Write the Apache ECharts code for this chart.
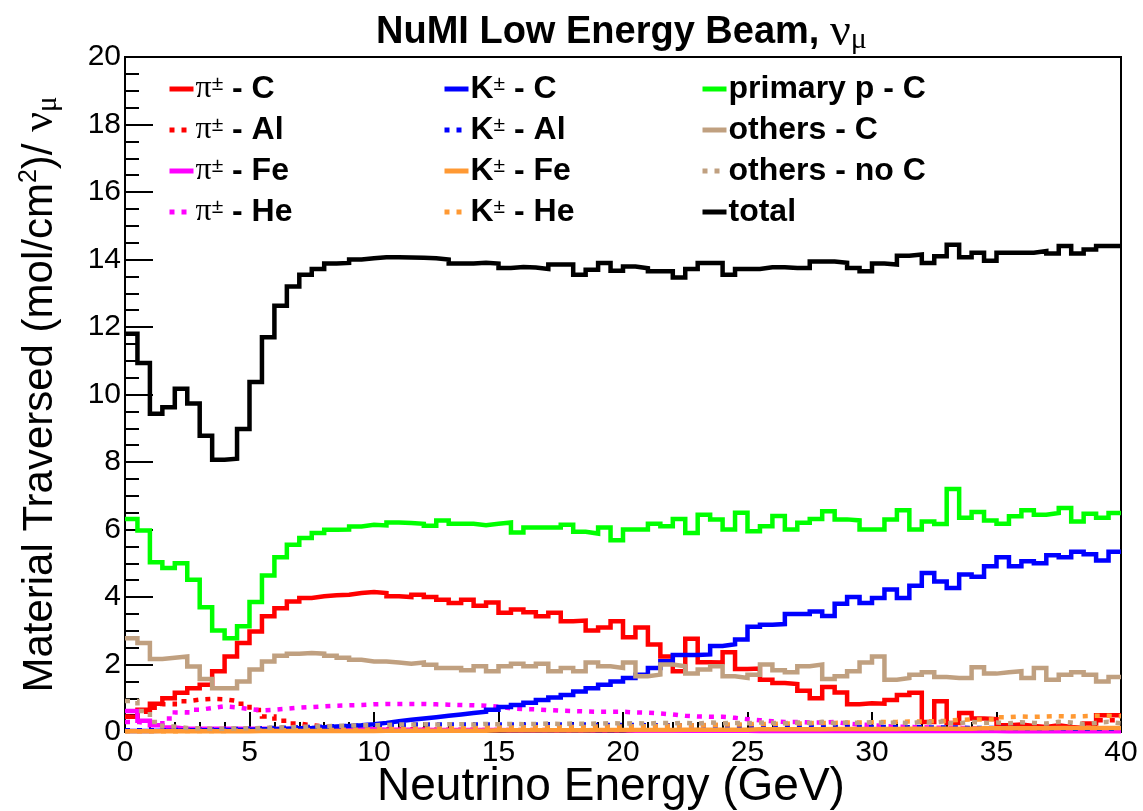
<!DOCTYPE html>
<html>
<head>
<meta charset="utf-8">
<script src="https://cdn.jsdelivr.net/npm/echarts@6/dist/echarts.min.js"></script>
<style>
html,body{margin:0;padding:0;background:#fff;}
#chart{width:1143px;height:811px;}
</style>
</head>
<body>
<div id="chart"></div>
<script>
// Histogram binning: 80 bins of 0.5 GeV from 0 to 40 GeV
const BIN_WIDTH = 0.5;
const xTickLabels = ['0','5','10','15','20','25','30','35','40'];
const yTickLabels = ['0','2','4','6','8','10','12','14','16','18','20'];

const seriesNames = ['π± - C','π± - Al','π± - Fe','π± - He','K± - C','K± - Al','K± - Fe','K± - He','primary p - C','others - C','others - no C','total'];

const piC = [0.45,0.66,0.84,1.0,1.16,1.3,1.4,1.8,2.24,2.64,2.98,3.43,3.67,3.87,3.97,4.02,4.05,4.07,4.12,4.15,
  4.12,4.02,4.0,4.07,4.0,3.92,3.82,3.92,3.74,3.84,3.53,3.63,3.55,3.43,3.53,3.28,3.3,3.01,3.1,3.28,
  2.81,3.1,2.59,2.24,1.8,2.76,2.07,2.06,2.36,1.87,1.88,1.55,1.45,1.42,1.22,1.0,1.33,1.17,0.82,0.85,
  0.84,0.95,1.1,1.16,0.3,0.91,0.27,0.56,0.4,0.38,0.2,0.22,0.18,0.15,0.2,0.15,0.12,0.25,0.5,0.5];
const piAl = [0.45,0.6,0.72,0.82,0.91,0.96,0.98,0.97,0.92,0.84,0.65,0.46,0.33,0.25,0.2,0.16,0.13,0.11,0.1,0.09,
  0.08,0.08,0.08,0.08,0.07,0.07,0.07,0.07,0.06,0.06,0.06,0.06,0.06,0.06,0.05,0.05,0.05,0.05,0.05,0.05,
  0.05,0.05,0.05,0.04,0.04,0.04,0.04,0.04,0.04,0.04,0.04,0.04,0.04,0.04,0.04,0.04,0.04,0.04,0.04,0.04,
  0.04,0.04,0.04,0.04,0.04,0.04,0.04,0.04,0.04,0.04,0.05,0.05,0.05,0.05,0.05,0.05,0.1,0.2,0.35,0.35];
const piFe = [0.62,0.33,0.2,0.13,0.1,0.1,0.1,0.1,0.1,0.1,0.1,0.09,0.09,0.09,0.09,0.09,0.08,0.08,0.08,0.08,
  0.07,0.07,0.07,0.07,0.06,0.06,0.06,0.06,0.06,0.06,0.05,0.05,0.05,0.05,0.05,0.05,0.05,0.05,0.05,0.05,
  0.04,0.04,0.04,0.04,0.04,0.04,0.04,0.04,0.04,0.04,0.03,0.03,0.03,0.03,0.03,0.03,0.03,0.03,0.03,0.03,
  0.03,0.03,0.03,0.03,0.03,0.03,0.03,0.03,0.03,0.03,0.02,0.02,0.02,0.02,0.02,0.02,0.02,0.02,0.02,0.02];
const piHe = [0.3,0.25,0.22,0.4,0.58,0.66,0.71,0.76,0.73,0.68,0.64,0.66,0.69,0.72,0.74,0.76,0.78,0.79,0.8,0.82,
  0.83,0.83,0.83,0.83,0.82,0.81,0.8,0.79,0.78,0.75,0.7,0.68,0.67,0.65,0.63,0.62,0.61,0.6,0.6,0.6,
  0.58,0.57,0.55,0.52,0.48,0.46,0.45,0.45,0.42,0.38,0.35,0.32,0.3,0.3,0.28,0.28,0.3,0.25,0.22,0.2,
  0.18,0.16,0.15,0.14,0.13,0.12,0.12,0.11,0.1,0.1,0.09,0.09,0.08,0.08,0.07,0.07,0.06,0.06,0.05,0.05];
const kC = [0.03,0.03,0.04,0.04,0.05,0.05,0.05,0.06,0.06,0.07,0.08,0.09,0.1,0.11,0.12,0.14,0.16,0.18,0.2,0.23,
  0.27,0.32,0.36,0.4,0.44,0.48,0.52,0.56,0.6,0.66,0.74,0.8,0.87,0.95,1.02,1.1,1.2,1.3,1.4,1.5,
  1.6,1.7,1.9,2.1,2.28,2.28,2.3,2.55,2.6,2.74,3.12,3.18,3.2,3.5,3.5,3.57,3.44,3.8,4.0,3.82,
  3.97,4.22,3.97,4.33,4.71,4.46,4.27,4.67,4.6,4.91,5.18,4.91,5.06,5.0,5.24,5.18,5.34,5.27,5.08,5.34];
const kAl = [0.05,0.05,0.05,0.06,0.06,0.07,0.07,0.08,0.09,0.1,0.11,0.12,0.13,0.14,0.15,0.16,0.17,0.18,0.19,0.2,
  0.2,0.21,0.22,0.22,0.22,0.22,0.22,0.22,0.22,0.22,0.22,0.22,0.22,0.22,0.22,0.22,0.22,0.21,0.21,0.21,
  0.21,0.2,0.2,0.2,0.2,0.2,0.19,0.19,0.19,0.18,0.18,0.18,0.17,0.17,0.17,0.16,0.16,0.16,0.15,0.15,
  0.15,0.14,0.14,0.14,0.13,0.13,0.13,0.12,0.12,0.12,0.12,0.11,0.11,0.11,0.11,0.1,0.1,0.1,0.1,0.1];
const kFe = [0.02,0.02,0.02,0.02,0.02,0.02,0.02,0.02,0.02,0.02,0.03,0.03,0.03,0.03,0.03,0.03,0.03,0.03,0.03,0.03,
  0.04,0.04,0.04,0.04,0.04,0.04,0.04,0.04,0.04,0.05,0.05,0.05,0.05,0.05,0.05,0.05,0.05,0.06,0.06,0.06,
  0.06,0.06,0.06,0.06,0.07,0.07,0.07,0.07,0.07,0.07,0.08,0.08,0.08,0.08,0.08,0.08,0.09,0.09,0.09,0.09,
  0.09,0.09,0.1,0.1,0.1,0.1,0.1,0.1,0.11,0.11,0.11,0.11,0.11,0.11,0.12,0.12,0.12,0.12,0.12,0.12];
const kHe = [0.02,0.02,0.02,0.02,0.03,0.03,0.03,0.03,0.04,0.04,0.04,0.05,0.05,0.05,0.06,0.06,0.06,0.07,0.07,0.08,
  0.08,0.09,0.09,0.1,0.1,0.11,0.11,0.12,0.12,0.13,0.13,0.14,0.14,0.14,0.15,0.15,0.15,0.16,0.16,0.16,
  0.17,0.17,0.18,0.19,0.2,0.2,0.21,0.22,0.22,0.23,0.24,0.24,0.25,0.25,0.26,0.27,0.27,0.28,0.28,0.29,
  0.3,0.3,0.31,0.31,0.32,0.33,0.36,0.37,0.37,0.38,0.44,0.46,0.45,0.46,0.47,0.46,0.47,0.48,0.48,0.47];
const primaryP = [6.31,5.97,5.03,4.86,5.0,4.51,3.7,3.01,2.78,3.13,3.85,4.64,5.18,5.55,5.75,5.9,5.99,6.0,6.09,6.14,
  6.12,6.21,6.19,6.17,6.11,6.27,6.17,6.17,6.13,6.17,6.21,5.91,6.06,6.06,6.06,6.14,5.93,5.88,6.06,5.68,
  6.0,6.0,6.17,6.1,6.31,5.9,6.44,6.3,6.0,6.5,5.95,6.1,6.4,6.0,6.2,6.31,6.54,6.3,6.27,6.0,
  6.0,6.3,6.57,6.0,6.24,6.16,7.2,6.35,6.52,6.27,6.17,6.39,6.57,6.44,6.49,6.64,6.24,6.47,6.35,6.49];
const othersC = [2.78,2.64,2.16,2.2,2.24,1.94,1.57,1.3,1.3,1.5,1.85,2.09,2.26,2.32,2.34,2.32,2.26,2.2,2.14,2.09,
  2.09,2.06,2.02,2.06,1.99,1.9,1.9,1.83,1.95,1.8,1.95,2.02,1.95,2.02,1.8,1.9,1.8,2.06,1.95,1.9,
  2.06,1.65,1.7,2.0,1.95,1.73,1.85,1.95,1.65,1.6,1.7,2.0,1.83,1.77,1.95,2.0,1.57,1.65,1.8,2.06,
  2.24,1.55,1.6,1.7,1.77,1.63,1.6,1.6,1.92,1.73,1.77,1.8,1.6,1.9,1.55,1.7,1.77,1.7,1.5,1.63];
const othersNoC = [0.92,0.62,0.3,0.16,0.12,0.11,0.1,0.1,0.11,0.11,0.12,0.13,0.14,0.15,0.16,0.17,0.18,0.19,0.2,0.2,
  0.21,0.22,0.22,0.23,0.22,0.23,0.23,0.22,0.24,0.23,0.24,0.23,0.24,0.25,0.24,0.25,0.24,0.25,0.26,0.25,
  0.26,0.25,0.27,0.26,0.27,0.25,0.28,0.26,0.27,0.26,0.28,0.27,0.26,0.28,0.27,0.3,0.26,0.28,0.27,0.29,
  0.27,0.28,0.26,0.3,0.28,0.33,0.26,0.3,0.27,0.28,0.26,0.29,0.27,0.25,0.3,0.28,0.24,0.27,0.3,0.26];
const total = [11.8,10.93,9.43,9.62,10.17,9.73,8.78,8.07,8.1,8.98,10.37,11.7,12.63,13.2,13.55,13.72,13.88,13.9,14.0,14.04,
  14.07,14.07,14.06,14.05,14.04,14.0,13.88,13.88,13.9,13.88,13.75,13.78,13.76,13.72,13.85,13.85,13.55,13.7,13.9,13.67,
  13.79,13.74,13.65,13.65,13.47,13.72,13.9,13.9,13.55,13.72,13.72,13.77,13.77,13.75,13.75,13.94,13.94,13.9,13.75,13.65,
  13.88,13.85,14.11,14.15,13.9,14.1,14.44,14.07,14.2,13.96,14.2,14.2,14.2,14.25,14.18,14.4,14.18,14.3,14.4,14.4];

const seriesValues = [piC, piAl, piFe, piHe, kC, kAl, kFe, kHe, primaryP, othersC, othersNoC, total];
const seriesColors = ['#ff0000','#ff0000','#ff00ff','#ff00ff','#0000ff','#0000ff','#ff9933','#ff9933','#00ff00','#c0a080','#c0a080','#000000'];
const seriesDotted = [false,true,false,true,false,true,false,true,false,false,true,false];

function histData(vals) {
  const d = vals.map((v, i) => [i * BIN_WIDTH, v]);
  d.push([vals.length * BIN_WIDTH, vals[vals.length - 1]]);
  return d;
}

const series = seriesNames.map((name, k) => ({
  name: name,
  type: 'line',
  step: 'end',
  symbol: 'none',
  clip: false,
  data: histData(seriesValues[k]),
  lineStyle: { color: seriesColors[k], width: 4.5, type: seriesDotted[k] ? [5, 7] : 'solid', cap: 'butt', join: 'miter' },
  itemStyle: { color: seriesColors[k] },
  emphasis: { disabled: true },
  z: 2 + k
}));

const legendRich = {
  g: { fontFamily: 'Liberation Serif', fontWeight: 'normal', fontSize: 32, lineHeight: 31, color: '#000' },
  sup: { fontFamily: 'Liberation Sans', fontWeight: 'normal', fontSize: 21, lineHeight: 20, verticalAlign: 'top', color: '#000' },
  t: { fontFamily: 'Liberation Sans', fontWeight: 'bold', fontSize: 32, lineHeight: 31, color: '#000' }
};
function legendFormatter(name) {
  const m = name.match(/^(π|K)±(.*)$/);
  if (m) {
    const head = m[1] === 'π' ? '{g|π}' : '{t|K}';
    return head + '{sup|±}{t|' + m[2] + '}';
  }
  return '{t|' + name + '}';
}
function makeLegend(names, left) {
  return {
    data: names,
    left: left,
    top: 73,
    padding: 0,
    orient: 'vertical',
    itemWidth: 24,
    itemHeight: 14,
    itemGap: 9,
    selectedMode: false,
    formatter: legendFormatter,
    itemStyle: { opacity: 0, borderWidth: 0 },
    lineStyle: { width: 5 },
    textStyle: { rich: legendRich, padding: [0, 0, 0, -3] }
  };
}

const chart = echarts.init(document.getElementById('chart'), null, { renderer: 'canvas' });
chart.setOption({
  animation: false,
  backgroundColor: '#fff',
  title: {
    text: '{b|NuMI Low Energy Beam, }{nu|ν}{sub|μ}',
    left: 371,
    top: 6,
    textStyle: {
      rich: {
        b: { fontFamily: 'Liberation Sans', fontWeight: 'bold', fontSize: 38, lineHeight: 44, color: '#000' },
        nu: { fontFamily: 'Liberation Serif', fontWeight: 'normal', fontSize: 46, lineHeight: 44, color: '#000' },
        sub: { fontFamily: 'Liberation Serif', fontWeight: 'normal', fontSize: 30, lineHeight: 28, verticalAlign: 'bottom', color: '#000' }
      }
    }
  },
  legend: [
    makeLegend(seriesNames.slice(0, 4), 167),
    makeLegend(seriesNames.slice(4, 8), 442),
    makeLegend(seriesNames.slice(8, 12), 700)
  ],
  grid: { left: 125, top: 57, width: 996, height: 675, show: true, borderColor: '#000', borderWidth: 2, backgroundColor: 'transparent', containLabel: false, outerBoundsMode: 'none' },
  xAxis: {
    type: 'value', min: 0, max: 40, interval: 5,
    name: 'Neutrino Energy (GeV)',
    nameLocation: 'middle', nameGap: 32, nameMoveOverlap: false,
    nameTextStyle: { fontFamily: 'Liberation Sans', fontSize: 46, color: '#000', padding: [0, 24, 0, 0] },
    axisLine: { show: true, lineStyle: { color: '#000', width: 2 } },
    axisTick: { show: true, inside: true, length: 20, lineStyle: { color: '#000', width: 2 } },
    minorTick: { show: true, splitNumber: 5, length: 10, lineStyle: { color: '#000', width: 2 } },
    splitLine: { show: false },
    axisLabel: {
      margin: 6, fontFamily: 'Liberation Sans', fontSize: 30, color: '#000',
      formatter: v => xTickLabels[Math.round(v / 5)]
    }
  },
  yAxis: {
    type: 'value', min: 0, max: 20, interval: 2,
    name: '{t|Material Traversed (mol/cm}{sup|2}{t|)/ }{nu|ν}{sub|μ}',
    nameLocation: 'middle', nameGap: 62, nameRotate: 90, nameMoveOverlap: false,
    nameTextStyle: {
      rich: {
        t: { fontFamily: 'Liberation Sans', fontSize: 42, lineHeight: 46, color: '#000' },
        sup: { fontFamily: 'Liberation Sans', fontSize: 25, lineHeight: 25, verticalAlign: 'top', color: '#000' },
        nu: { fontFamily: 'Liberation Serif', fontSize: 44, lineHeight: 46, color: '#000' },
        sub: { fontFamily: 'Liberation Serif', fontSize: 29, lineHeight: 29, verticalAlign: 'bottom', color: '#000' }
      }
    },
    axisLine: { show: true, lineStyle: { color: '#000', width: 2 } },
    axisTick: { show: true, inside: true, length: 28, lineStyle: { color: '#000', width: 2 } },
    minorTick: { show: true, splitNumber: 4, length: 14, lineStyle: { color: '#000', width: 2 } },
    splitLine: { show: false },
    axisLabel: {
      margin: 4, fontFamily: 'Liberation Sans', fontSize: 30, color: '#000',
      formatter: v => yTickLabels[Math.round(v / 2)]
    }
  },
  series: series
});
</script>
</body>
</html>
